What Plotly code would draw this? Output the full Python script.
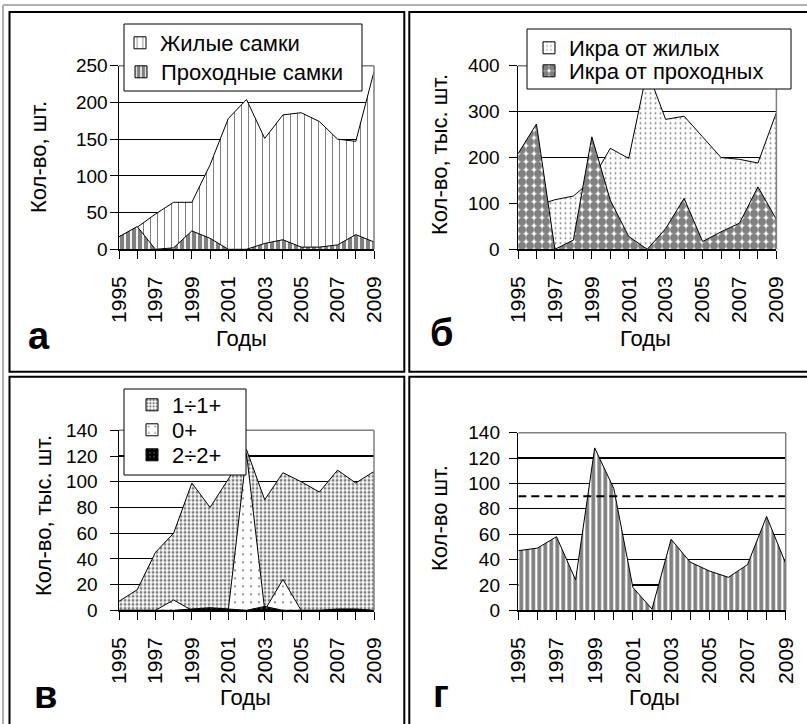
import plotly.graph_objects as go

W, H = 807, 724
FONT = "Liberation Sans, Arial, sans-serif"

# ---------------- data ----------------
years = list(range(1995, 2010))
year_ticktext = [str(y) if y % 2 == 1 else "" for y in years]

# panel а
names_a = ["Жилые самки", "Проходные самки"]
resident_females = [17, 30, 48, 64, 64, 115, 178, 204, 151, 183, 186, 174, 150, 147, 242]
migratory_females = [17, 31, 0, 2, 25, 15, 0, 0, 8, 13, 3, 3, 6, 20, 10]

# panel б
names_b = ["Икра от жилых", "Икра от проходных"]
eggs_resident = [100, 95, 108, 116, 150, 220, 198, 390, 283, 290, 245, 200, 196, 188, 298]
eggs_migratory = [208, 273, 0, 20, 245, 107, 28, 0, 45, 111, 17, 38, 57, 136, 65]

# panel в
names_v = ["1÷1+", "0+", "2÷2+"]
age_1 = [7, 16, 45, 60, 99, 80, 102, 125, 86, 107, 100, 92, 109, 99, 108]
age_0 = [0, 0, 0, 8, 0, 0, 0, 122, 0, 24, 0, 0, 0, 0, 0]
age_2 = [0, 0, 0, 0, 1, 2, 1, 0, 3, 0, 0, 0, 1, 1, 0]

# panel г
count_g = [47, 49, 58, 24, 128, 96, 18, 1, 56, 38, 31, 26, 36, 74, 37]
threshold_g = 90

panel_letters = ["а", "б", "в", "г"]
y_titles = ["Кол-во, шт.", "Кол-во, тыс. шт.", "Кол-во, тыс. шт.", "Кол-во шт."]
x_title = "Годы"
y_ranges = [(0, 250, 50), (0, 400, 100), (0, 140, 20), (0, 140, 20)]


def px(x):
    return x / W


def py(y):
    return 1 - y / H


# ---------------- patterns ----------------
P_VLINES = dict(shape="|", size=7, solidity=0.15, fgcolor="black", bgcolor="white")
P_VBARS = dict(shape="|", size=6, solidity=0.7, fgcolor="black", bgcolor="white")
P_SPARSE = dict(shape=".", size=5, solidity=0.12, fgcolor="black", bgcolor="white")
P_BALLS = dict(shape=".", size=8, solidity=0.75, fgcolor="black", bgcolor="white")
P_GRAY = dict(shape=".", size=4, solidity=0.45, fgcolor="black", bgcolor="white")
P_WHITE = dict(shape=".", size=8, solidity=0.06, fgcolor="black", bgcolor="white")
P_DARK = dict(shape=".", size=5, solidity=0.12, fgcolor="white", bgcolor="black")
P_STRIPES = dict(shape="|", size=6, solidity=0.62, fgcolor="black", bgcolor="white")

fig = go.Figure()


def area(vals, xa, ya, pattern):
    fig.add_trace(go.Scatter(
        x=years, y=vals, mode="lines", xaxis=xa, yaxis=ya,
        line=dict(color="black", width=1), fill="tozeroy",
        fillpattern=pattern, showlegend=False, hoverinfo="skip"))


def legend_item(name, xa, ya, pattern, legend):
    fig.add_trace(go.Bar(
        x=[None], y=[None], name=name, xaxis=xa, yaxis=ya, legend=legend,
        marker=dict(color="white", line=dict(color="black", width=1), pattern=pattern),
        showlegend=True, hoverinfo="skip"))


# panel а
area(resident_females, "x", "y", P_VLINES)
area(migratory_females, "x", "y", P_VBARS)
# panel б
area(eggs_resident, "x2", "y2", P_SPARSE)
area(eggs_migratory, "x2", "y2", P_BALLS)
# panel в
area(age_1, "x3", "y3", P_GRAY)
area(age_0, "x3", "y3", P_WHITE)
area(age_2, "x3", "y3", P_DARK)
# panel г
area(count_g, "x4", "y4", P_STRIPES)
fig.add_trace(go.Scatter(
    x=[years[0], years[-1]], y=[threshold_g, threshold_g], mode="lines",
    xaxis="x4", yaxis="y4", line=dict(color="black", width=2, dash="8px,5px"),
    showlegend=False, hoverinfo="skip"))

# legend entries (one legend per entry, positioned like the original)
leg_specs = [
    (names_a[0], "x", "y", P_VLINES, 160, 43),
    (names_a[1], "x", "y", P_VBARS, 161, 72),
    (names_b[0], "x2", "y2", P_SPARSE, 569, 48),
    (names_b[1], "x2", "y2", P_BALLS, 569, 71),
    (names_v[0], "x3", "y3", P_GRAY, 172, 405),
    (names_v[1], "x3", "y3", P_WHITE, 172, 430),
    (names_v[2], "x3", "y3", P_DARK, 172, 455),
]
layout_legends = {}
for i, (nm, xa, ya, pat, tx, ty) in enumerate(leg_specs):
    key = "legend" if i == 0 else f"legend{i + 1}"
    legend_item(nm, xa, ya, pat, key)
    layout_legends[key] = dict(
        x=px(tx - 40), y=py(ty), xanchor="left", yanchor="middle",
        bgcolor="rgba(0,0,0,0)", borderwidth=0, itemwidth=30,
        font=dict(family=FONT, size=22, color="black"))

# ---------------- axes ----------------
dom = [
    ((119, 374), (65.7, 249.3)),
    ((518, 776.4), (65.7, 249.3)),
    ((119, 374), (430.3, 610.3)),
    ((518.3, 785.7), (432.7, 610.3)),
]
y_standoff = [-2, 5, 8, 5]
layout_axes = {}
for i, ((x0, x1), (yt, yb)) in enumerate(dom):
    sfx = "" if i == 0 else str(i + 1)
    lo, hi, dt = y_ranges[i]
    layout_axes["xaxis" + sfx] = dict(
        domain=[px(x0), px(x1)], range=[years[0], years[-1]], anchor="y" + sfx,
        tickmode="array", tickvals=years, ticktext=year_ticktext, tickangle=-90,
        ticks="outside", ticklen=8, tickwidth=1, tickcolor="black",
        showline=True, linecolor="black", linewidth=1.5, showgrid=False,
        zeroline=False, ticklabelstandoff=9, automargin=False,
        tickfont=dict(family=FONT, size=21, color="black"), fixedrange=True)
    layout_axes["yaxis" + sfx] = dict(
        domain=[py(yb), py(yt)], range=[lo, hi], anchor="x" + sfx,
        tickmode="linear", tick0=0, dtick=dt,
        ticks="outside", ticklen=8, tickwidth=1, tickcolor="black",
        showline=True, linecolor="black", linewidth=1.5,
        showgrid=True, gridcolor="black", gridwidth=1.2, zeroline=False,
        ticklabelstandoff=y_standoff[i], automargin=False,
        tickfont=dict(family=FONT, size=19, color="black"), fixedrange=True)

# ---------------- shapes ----------------
shapes = []
for i in range(4):
    sfx = "" if i == 0 else str(i + 1)
    xr, yr = "x" + sfx + " domain", "y" + sfx + " domain"
    shapes.append(dict(type="line", xref=xr, yref=yr, x0=0, x1=1, y0=1, y1=1,
                       line=dict(color="#808080", width=1.5), layer="above"))
    shapes.append(dict(type="line", xref=xr, yref=yr, x0=1, x1=1, y0=0, y1=1,
                       line=dict(color="#808080", width=1.5), layer="above"))

# legend boxes
for (bx0, by0, bx1, by1) in [(124, 24, 362, 91), (527, 29, 791, 89), (124, 389, 246, 475)]:
    shapes.append(dict(type="rect", xref="paper", yref="paper",
                       x0=px(bx0), x1=px(bx1), y0=py(by1), y1=py(by0),
                       line=dict(color="black", width=1), fillcolor="white", layer="above"))

# outer gray frame
shapes.append(dict(type="line", xref="paper", yref="paper", x0=px(3), x1=px(3), y0=py(5), y1=py(H + 5),
                   line=dict(color="#b0b0b0", width=2)))
shapes.append(dict(type="line", xref="paper", yref="paper", x0=px(3), x1=px(W + 5), y0=py(5), y1=py(5),
                   line=dict(color="#b0b0b0", width=2)))
# panel frames
for (fx0, fy0, fx1, fy1) in [(9.5, 12, 404.3, 371.7), (409.3, 12, W + 20, 371.7),
                             (9.5, 376.7, 404.3, H + 20), (409.3, 376.7, W + 20, H + 20)]:
    shapes.append(dict(type="rect", xref="paper", yref="paper",
                       x0=px(fx0), x1=px(fx1), y0=py(fy1), y1=py(fy0),
                       line=dict(color="black", width=2), layer="below"))

# ---------------- annotations ----------------
ann = []
ytitle_pos = [(39, 157), (439, 155), (43, 516), (439, 518)]
xtitle_pos = [(241, 339), (645, 338), (246, 697), (654, 697)]
letter_pos = [(39, 336), (441, 333), (45, 695), (441, 694)]
for i in range(4):
    ann.append(dict(text=y_titles[i], x=px(ytitle_pos[i][0]), y=py(ytitle_pos[i][1]),
                    xref="paper", yref="paper", showarrow=False, textangle=-90,
                    xanchor="center", yanchor="middle",
                    font=dict(family=FONT, size=22, color="black")))
    ann.append(dict(text=x_title, x=px(xtitle_pos[i][0]), y=py(xtitle_pos[i][1]),
                    xref="paper", yref="paper", showarrow=False,
                    xanchor="center", yanchor="middle",
                    font=dict(family=FONT, size=22, color="black")))
    ann.append(dict(text="<b>" + panel_letters[i] + "</b>", x=px(letter_pos[i][0]), y=py(letter_pos[i][1]),
                    xref="paper", yref="paper", showarrow=False,
                    xanchor="center", yanchor="middle",
                    font=dict(family=FONT, size=38, color="black")))

fig.update_layout(
    width=W, height=H, margin=dict(l=0, r=0, t=0, b=0, pad=0, autoexpand=False),
    paper_bgcolor="white", plot_bgcolor="white",
    font=dict(family=FONT, color="black"),
    showlegend=True, shapes=shapes, annotations=ann,
    **layout_axes, **layout_legends)

fig.write_html(
    "out.html",
    config={"displayModeBar": False, "staticPlot": True},
    post_script="document.body.style.margin='0px';document.body.style.padding='0px';")
